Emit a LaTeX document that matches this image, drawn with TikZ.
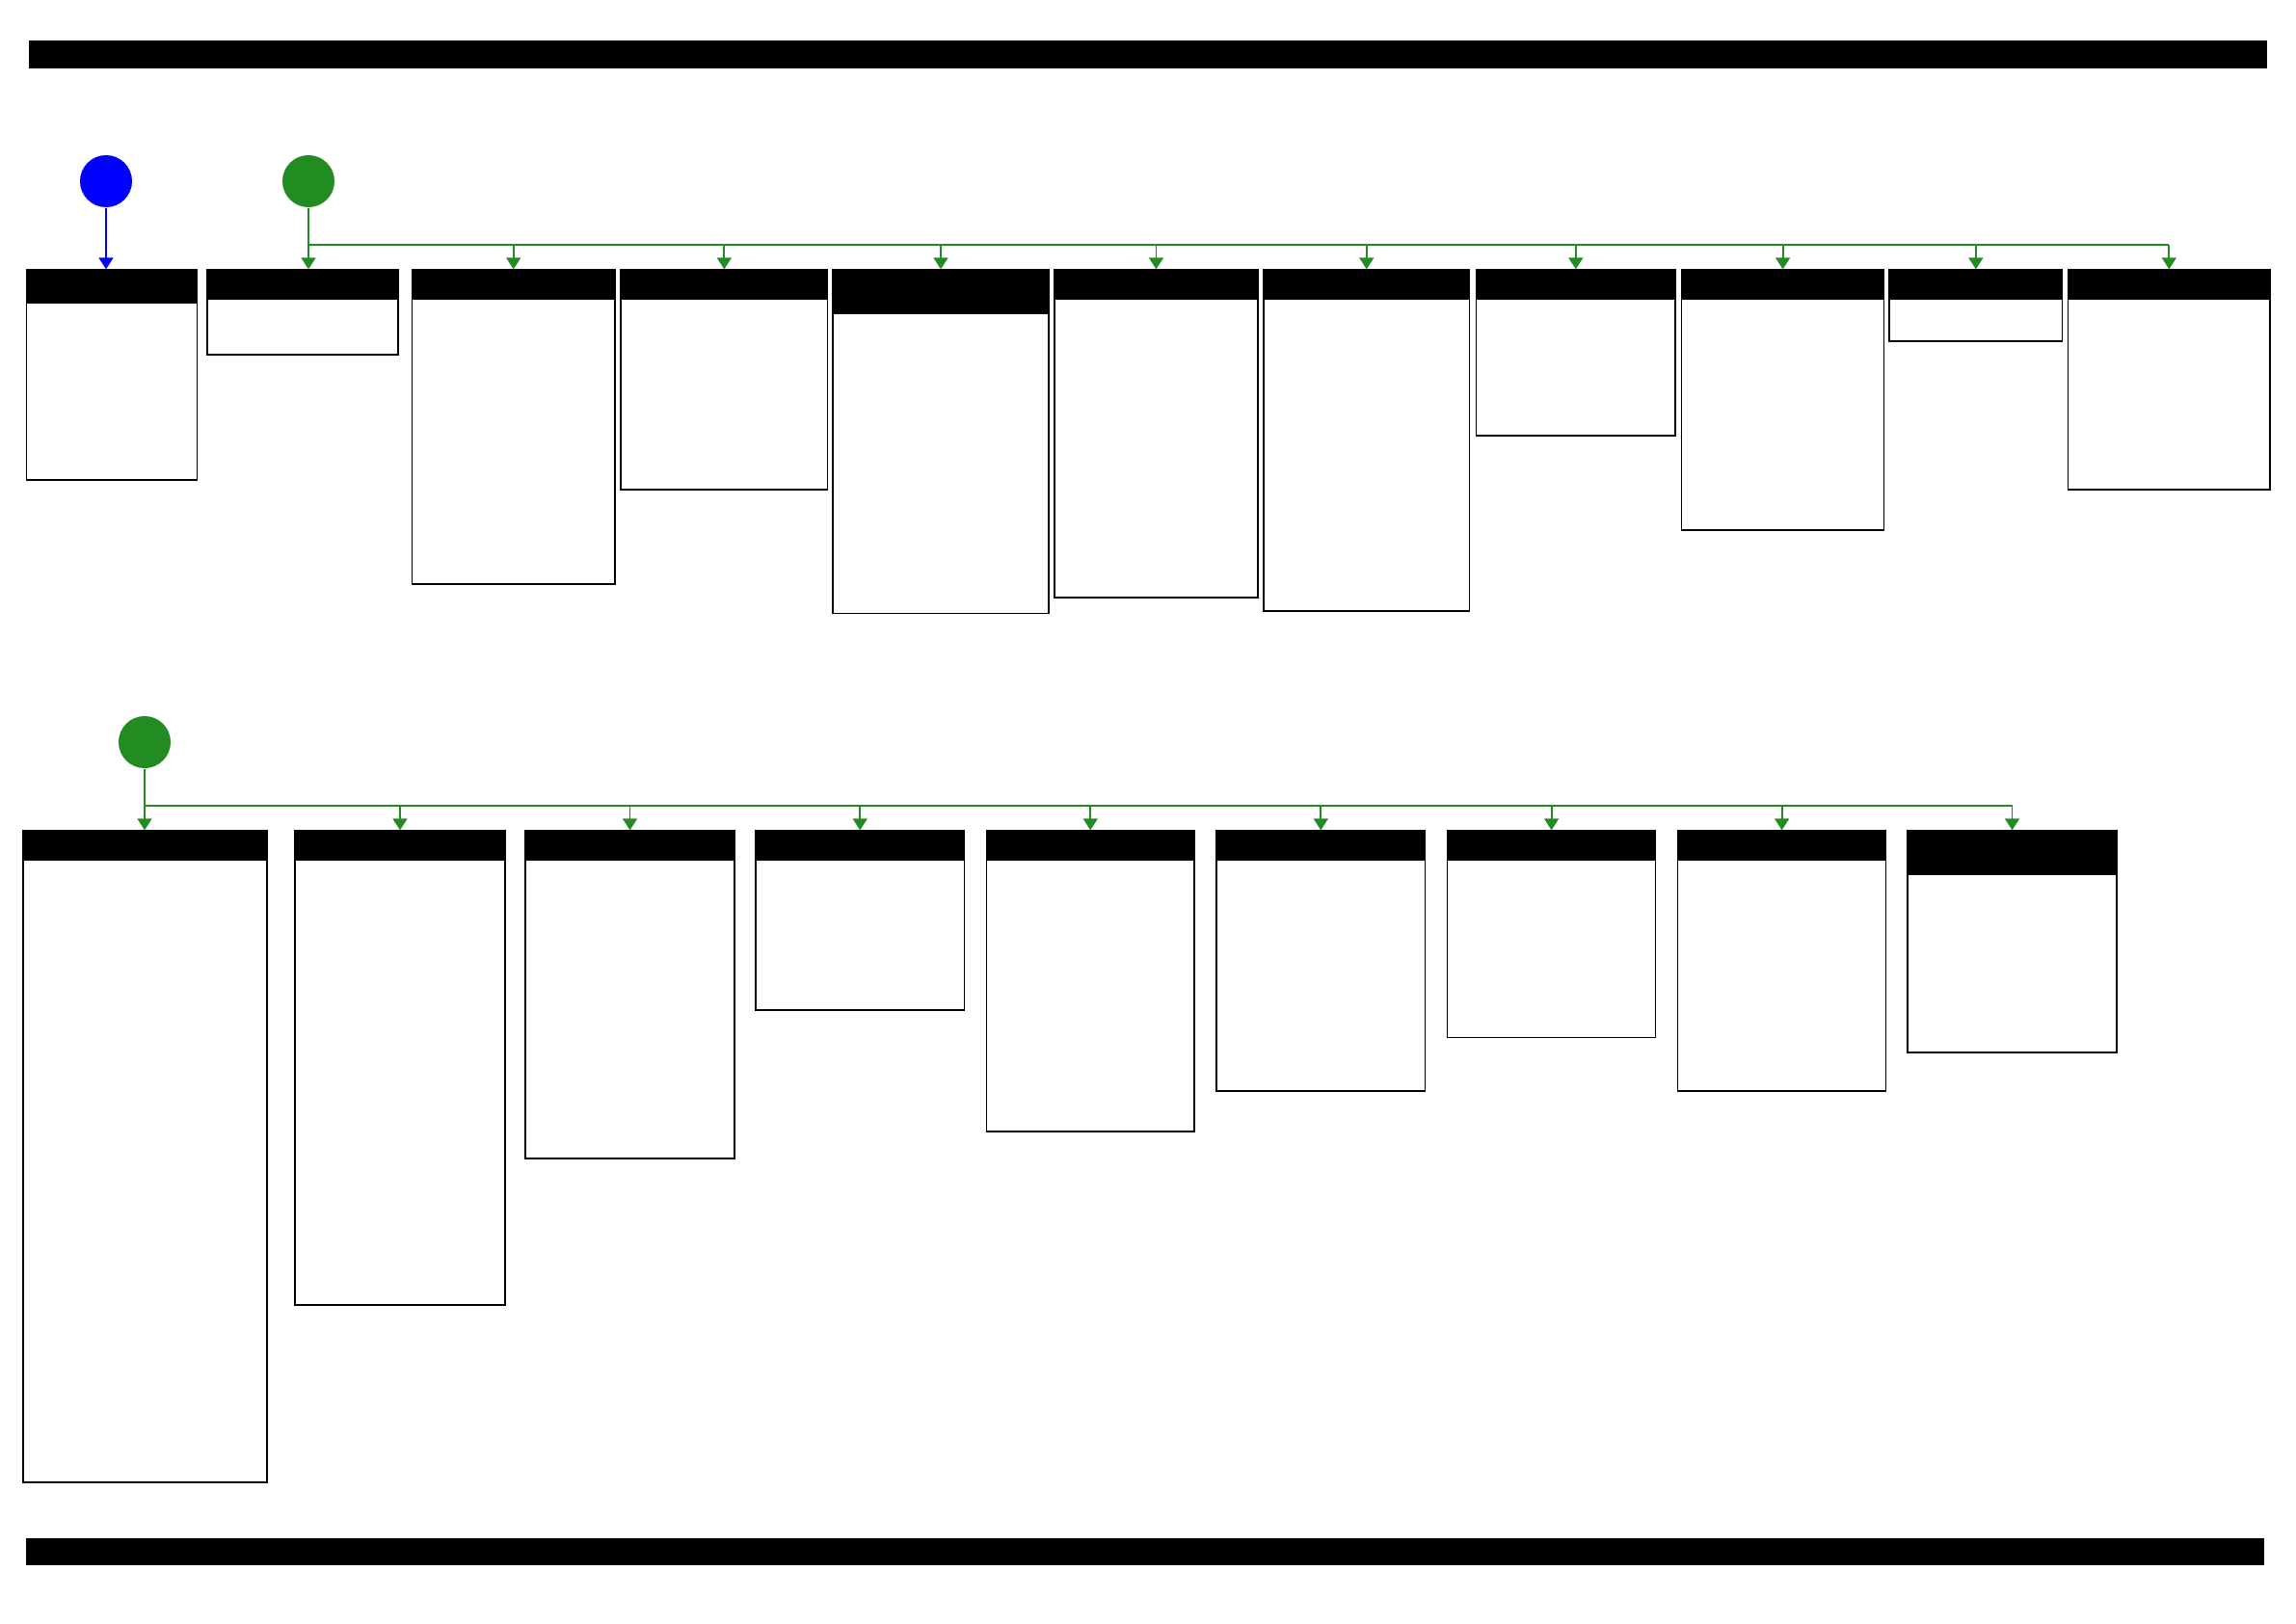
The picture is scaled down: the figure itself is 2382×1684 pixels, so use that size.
\documentclass[tikz,border=0pt]{standalone}
\usetikzlibrary{calc}
\usetikzlibrary{positioning}
\usetikzlibrary{fit,arrows.meta}
\definecolor{busgreen}{RGB}{34,139,34}
\tikzset{
  band/.style={fill=black, inner sep=0pt},
  panel/.style={draw, inner sep=0pt, line width=0.4pt},
  header/.style={fill=black, inner sep=0pt},
  source/.style={circle, inner sep=0pt, minimum size=0.54cm},
  wire/.style={line width=0.5pt},
  feed/.style={wire, -{Triangle[length=0.12cm, width=0.15cm]}},
}

\begin{document}
\begin{tikzpicture}[x=0.01cm, y=-0.01cm]
  \useasboundingbox (0,0) rectangle (2382,1684);

  \node [band, fit={(30,42) (2352,70.5)}] (topband) {};
  \node [band, fit={(27,1596) (2349,1624)}] (bottomband) {};

  % first row
  \foreach \n/\l/\r/\h/\b in {b1/27.5/204.6/315/498, b2/215/413/311/368,
      b3/427.5/638/311/606, b4/644/858.7/311/508, b5/864/1088/326/636.6,
      b6/1094/1305/311/620, b7/1311/1524.5/311/634, b8/1531.6/1738/311/452,
      b9/1744.6/1954.6/311/550, b10/1960/2139.7/311/354, b11/2145.6/2355/311/508} {
    \node [panel, fit={(\l,280) (\r,\b)}] (\n) {};
    \node [header, fit={(\l,280) (\r,\h)}] (\n-head) {};
  }

  \node [source, fill=blue] (start) at (110,188) {};
  \draw [feed, blue] (start) -- (start |- b1.north);

  \node [source, fill=busgreen] (fork1) at (320,188) {};
  \draw [feed, busgreen] (fork1) -- (fork1 |- b2.north);
  \coordinate (bus1) at (320,254);
  \draw [wire, busgreen] (bus1) -- (bus1 -| b11.north);
  \foreach \i in {3,...,11}
    \draw [feed, busgreen] (bus1 -| b\i.north) -- (b\i.north);

  % second row
  \foreach \n/\l/\r/\h/\b in {c1/24/277/893/1538, c2/306/524/893/1354,
      c3/545/762/893/1202, c4/784/1000.5/893/1048, c5/1023.5/1239/893/1174,
      c6/1262/1478.6/893/1132, c7/1501.5/1717.7/893/1076.5,
      c8/1740.6/1956.6/893/1132, c9/1979/2196/908/1092} {
    \node [panel, fit={(\l,862) (\r,\b)}] (\n) {};
    \node [header, fit={(\l,862) (\r,\h)}] (\n-head) {};
  }

  \node [source, fill=busgreen] (fork2) at (150,770) {};
  \draw [feed, busgreen] (fork2) -- (fork2 |- c1.north);
  \coordinate (bus2) at (150,836);
  \draw [wire, busgreen] (bus2) -- (bus2 -| c9.north);
  \foreach \i in {2,...,9}
    \draw [feed, busgreen] (bus2 -| c\i.north) -- (c\i.north);
\end{tikzpicture}
\end{document}
